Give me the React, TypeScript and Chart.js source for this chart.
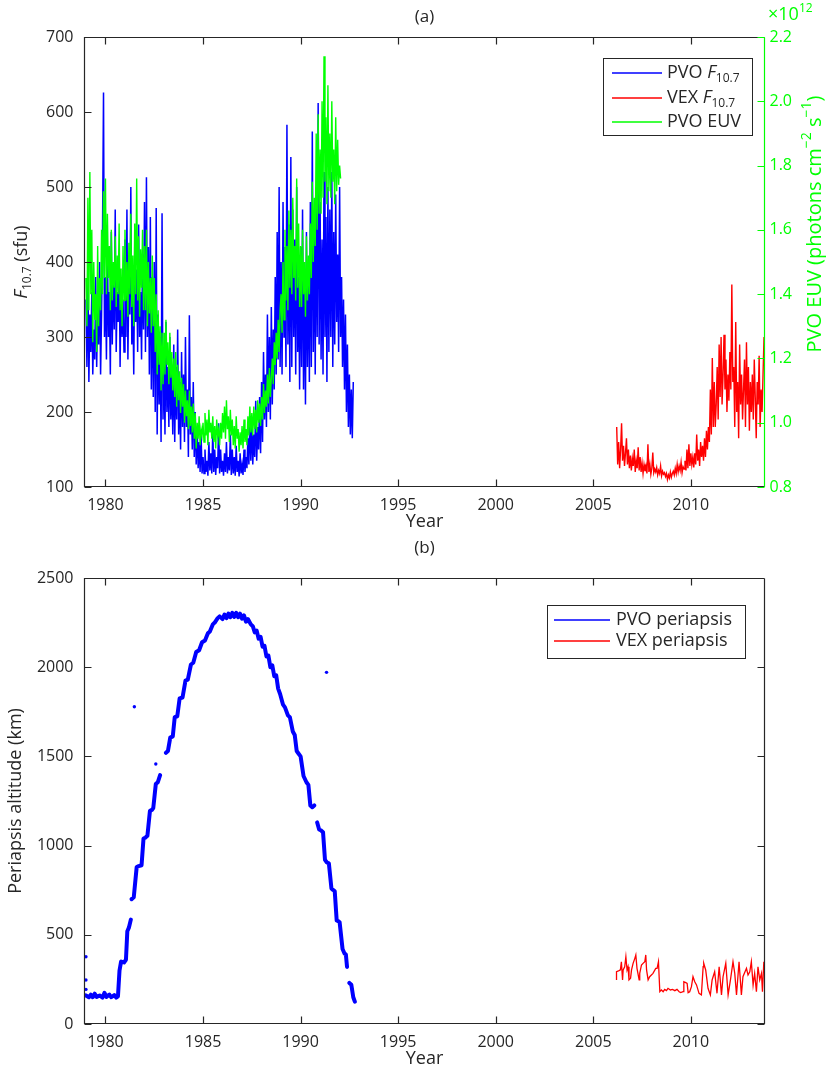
import { useEffect, useRef } from "react";
import { Chart, registerables } from "chart.js";

Chart.register(...registerables);

const FONT = "'Open Sans', 'Noto Sans', sans-serif";
const AXIS = "#262626";
const BLUE = "#0000ff";
const RED = "#ff0000";
const GREEN = "#00ff00";

// ---------- tick labels ----------
const yearTicks = [1980, 1985, 1990, 1995, 2000, 2005, 2010];
const f107Ticks = [100, 200, 300, 400, 500, 600, 700];
const euvTicks = [0.8, 1.0, 1.2, 1.4, 1.6, 1.8, 2.0, 2.2];
const periTicks = [0, 500, 1000, 1500, 2000, 2500];

// ---------- panel (a) series: values every 0.05 yr ----------
const sampleStep = 0.05;
const pvoF107Start = 1979.0;
const pvoF107 = [
  350, 260, 390, 240, 330, 280, 360, 250, 310, 270,
  380, 260, 340, 290, 400, 250, 330, 440, 626, 300,
  380, 270, 420, 300, 360, 250, 440, 290, 390, 310,
  470, 280, 360, 320, 410, 260, 380, 300, 350, 280,
  430, 300, 470, 270, 380, 330, 500, 290, 360, 250,
  420, 320, 390, 280, 450, 300, 360, 270, 410, 310,
  480, 280, 513, 300, 420, 250, 460, 230, 380, 220,
  400, 200, 472, 170, 330, 210, 300, 160, 465, 190,
  280, 170, 320, 200, 260, 180, 300, 190, 250, 170,
  290, 160, 260, 190, 310, 170, 240, 150, 280, 180,
  250, 160, 300, 180, 230, 140, 329, 170, 220, 150,
  240, 140, 200, 130, 180, 125, 160, 120, 170, 118,
  140, 118, 150, 120, 135, 115, 160, 122, 145, 118,
  175, 120, 150, 116, 140, 125, 185, 118, 150, 120,
  135, 115, 145, 120, 160, 118, 140, 122, 170, 116,
  150, 118, 140, 115, 155, 120, 135, 114, 145, 118,
  130, 116, 150, 120, 140, 125, 165, 130, 190, 135,
  190, 130, 170, 140, 215, 135, 180, 150, 220, 145,
  240, 160, 280, 190, 250, 180, 330, 200, 300, 190,
  340, 210, 310, 230, 380, 250, 440, 270, 500, 260,
  400, 250, 480, 300, 420, 260, 583, 290, 450, 240,
  540, 260, 470, 300, 430, 250, 500, 280, 380, 230,
  420, 260, 470, 230, 380, 210, 440, 260, 400, 240,
  480, 260, 574, 280, 450, 250, 500, 300, 612, 290,
  480, 270, 430, 250, 520, 300, 460, 240, 500, 280,
  470, 300, 520, 260, 440, 290, 490, 320, 410, 280,
  500, 300, 380, 260, 350, 230, 330, 200, 290, 180,
  250, 170, 230, 165, 240,
];

const vexF107Start = 2006.2;
const vexF107 = [
  180, 130, 160, 125, 150, 185, 135, 155, 128, 145,
  165, 130, 150, 125, 142, 122, 138, 128, 150, 120,
  135, 125, 153, 122, 140, 120, 132, 118, 130, 121,
  128, 118, 157, 120, 130, 117, 125, 146, 119, 124,
  120, 126, 116, 122, 118, 128, 115, 121, 117, 119,
  114, 118, 110, 116, 112, 120, 113, 118, 121, 116,
  125, 118, 130, 120, 128, 122, 133, 119, 127, 124,
  135, 122, 150, 125, 157, 128, 145, 130, 140, 126,
  145, 130, 170, 135, 150, 128, 160, 140, 155, 135,
  165, 140, 175, 150, 180, 160, 230, 170, 272, 180,
  240, 180, 210, 260, 190, 290, 220, 300, 210, 250,
  303, 230, 270, 200, 250, 215, 280, 230, 370, 240,
  260, 180, 320, 200, 240, 165, 290, 210, 250, 190,
  230, 270, 180, 293, 210, 260, 175, 240, 200, 250,
  190, 270, 220, 165, 240, 210, 275, 180, 230, 200,
  250, 300, 260,
];

const pvoEuvStart = 1979.0; // units of 1e12 photons cm^-2 s^-1
const pvoEuv = [
  1.45, 1.30, 1.70, 1.35, 1.78, 1.40, 1.60, 1.25, 1.50, 1.32,
  1.40, 1.22, 1.55, 1.30, 1.45, 1.35, 1.60, 1.40, 1.72, 1.45,
  1.76, 1.40, 1.65, 1.45, 1.55, 1.35, 1.60, 1.38, 1.50, 1.42,
  1.58, 1.36, 1.52, 1.40, 1.62, 1.35, 1.48, 1.30, 1.55, 1.38,
  1.60, 1.38, 1.50, 1.33, 1.56, 1.40, 1.65, 1.36, 1.52, 1.30,
  1.62, 1.40, 1.76, 1.38, 1.58, 1.33, 1.54, 1.42, 1.60, 1.35,
  1.55, 1.35, 1.60, 1.30, 1.50, 1.34, 1.45, 1.28, 1.52, 1.30,
  1.45, 1.22, 1.40, 1.15, 1.35, 1.18, 1.30, 1.10, 1.28, 1.12,
  1.28, 1.15, 1.32, 1.18, 1.25, 1.12, 1.28, 1.14, 1.22, 1.10,
  1.20, 1.08, 1.22, 1.05, 1.18, 1.07, 1.16, 1.03, 1.14, 1.05,
  1.12, 1.00, 1.10, 1.02, 1.07, 0.98, 1.10, 0.99, 1.05, 0.97,
  1.06, 0.95, 1.03, 0.92, 1.00, 0.95, 1.02, 0.93, 0.98, 0.96,
  1.00, 0.94, 1.03, 0.96, 1.01, 0.93, 1.04, 0.97, 1.00, 0.95,
  1.02, 0.94, 0.99, 0.92, 1.01, 0.96, 0.98, 0.93, 1.00, 0.95,
  1.03, 0.97, 1.05, 0.95, 1.07, 0.98, 1.02, 0.94, 1.04, 0.96,
  1.01, 0.93, 0.99, 0.92, 1.02, 0.95, 0.98, 0.91, 0.97, 0.93,
  0.99, 0.92, 1.01, 0.94, 0.98, 0.93, 1.02, 0.96, 1.05, 0.97,
  1.03, 0.96, 1.05, 0.98, 1.04, 0.97, 1.07, 1.00, 1.06, 0.99,
  1.08, 1.01, 1.12, 1.03, 1.10, 1.05, 1.15, 1.06, 1.17, 1.08,
  1.14, 1.20, 1.12, 1.25, 1.18, 1.28, 1.20, 1.32, 1.22, 1.35,
  1.40, 1.28, 1.50, 1.32, 1.60, 1.38, 1.55, 1.35, 1.66, 1.42,
  1.60, 1.40, 1.70, 1.45, 1.55, 1.38, 1.76, 1.42, 1.62, 1.36,
  1.55, 1.36, 1.60, 1.40, 1.50, 1.33, 1.58, 1.38, 1.52, 1.40,
  1.62, 1.45, 1.75, 1.50, 1.70, 1.55, 1.90, 1.60, 1.96, 1.65,
  1.85, 1.65, 2.00, 1.70, 2.14, 1.75, 1.95, 1.68, 2.05, 1.72,
  1.90, 1.70, 2.00, 1.75, 1.85, 1.68, 1.95, 1.72, 1.88, 1.74,
  1.80, 1.76,
];

// ---------- panel (b) series ----------
const pvoPeriYears = [
  1979.0, 1979.15, 1979.25, 1979.35, 1979.45, 1979.55, 1979.7, 1979.85, 1979.95, 1980.05, 1980.2, 1980.3, 1980.45, 1980.55, 1980.64,
  1980.72, 1980.8, 1980.95, 1981.05, 1981.12, 1981.2, 1981.3, 1981.32,
  1981.34, 1981.45, 1981.6, 1981.7, 1981.85, 1981.95, 1982.05, 1982.15, 1982.28, 1982.38, 1982.45, 1982.58, 1982.68, 1982.8, 1982.95,
  1983.1, 1983.2, 1983.32, 1983.45, 1983.55, 1983.68, 1983.8, 1983.95, 1984.1, 1984.22, 1984.38, 1984.5, 1984.65, 1984.8, 1984.95,
  1985.1, 1985.25, 1985.35, 1985.5, 1985.6, 1985.75, 1985.85, 1986.0, 1986.1, 1986.2, 1986.3, 1986.4, 1986.5, 1986.6, 1986.7,
  1986.8, 1986.9, 1987.0, 1987.1, 1987.2, 1987.3, 1987.45, 1987.55, 1987.65, 1987.75, 1987.85, 1987.95, 1988.05, 1988.15, 1988.25,
  1988.35, 1988.45, 1988.55, 1988.65, 1988.75, 1988.85, 1988.95,
  1989.1, 1989.2, 1989.35, 1989.45, 1989.6, 1989.7, 1989.8, 1989.9, 1990.0, 1990.15, 1990.3, 1990.4, 1990.5, 1990.6, 1990.7, 1990.78,
  1990.85, 1990.95, 1991.05, 1991.15, 1991.25, 1991.35, 1991.45, 1991.58, 1991.68, 1991.75, 1991.85, 1991.95, 1992.0, 1992.15,
  1992.25, 1992.32, 1992.38, 1992.44, 1992.5, 1992.6, 1992.7, 1992.78,
];
const pvoPeriKm = [
  160, 150, 165, 150, 170, 152, 160, 148, 175, 152, 165, 150, 162, 148, 155,
  300, 350, 345, 360, 520, 540, 585, null,
  700, 710, 880, 885, 890, 1040, 1045, 1055, 1195, 1200, 1210, 1345, 1355, 1395, null,
  1520, 1530, 1605, 1612, 1720, 1725, 1825, 1830, 1925, 1930, 2015, 2025, 2085, 2095, 2140,
  2150, 2190, 2200, 2240, 2250, 2275, 2285, 2270, 2295, 2275, 2300, 2280, 2305, 2282, 2305,
  2280, 2300, 2272, 2290, 2255, 2270, 2240, 2230, 2195, 2205, 2160, 2170, 2115, 2120, 2060,
  2065, 2000, 2010, 1950, 1955, 1880, 1850,
  1790, 1775, 1730, 1720, 1640, 1620, 1530, 1515, 1500, 1390, 1355, 1340, 1225, 1215, 1225, null,
  1130, 1090, 1085, 1075, 920, 905, 900, 760, 750, 745, 580, 575, 570, 420,
  395, 390, 320, null, 230, 220, 150, 125,
];
const pvoPeriDotYears = [1979.0, 1979.0, 1979.0, 1981.48, 1982.58, 1991.33];
const pvoPeriDotKm = [377, 247, 194, 1778, 1457, 1971];

const vexPeriYears = [
  2006.19, 2006.19, 2006.32, 2006.39, 2006.44, 2006.5, 2006.53, 2006.61, 2006.67, 2006.73, 2006.78, 2006.83, 2006.91, 2006.96,
  2007.04, 2007.13, 2007.18, 2007.24, 2007.35, 2007.38, 2007.47, 2007.55, 2007.64, 2007.69, 2007.73, 2007.81, 2007.89,
  2008.06, 2008.2, 2008.27, 2008.34, 2008.41, 2008.49, 2008.58, 2008.66, 2008.75, 2008.83, 2008.95,
  2009.06, 2009.18, 2009.29, 2009.4, 2009.48, 2009.6, 2009.64, 2009.74, 2009.81, 2009.86, 2009.94,
  2010.03, 2010.11, 2010.2, 2010.29, 2010.42, 2010.54, 2010.63, 2010.66, 2010.76, 2010.88,
  2011.0, 2011.09, 2011.22, 2011.34, 2011.45, 2011.57, 2011.65, 2011.79, 2011.91,
  2012.03, 2012.16, 2012.25, 2012.34, 2012.47, 2012.59, 2012.67, 2012.85, 2012.93,
  2013.02, 2013.1, 2013.19, 2013.27, 2013.36, 2013.44, 2013.53, 2013.62, 2013.67, 2013.74, 2013.79,
];
const vexPeriKm = [
  247, 293, 299, 303, 349, 247, 303, 321, 377, 303, 321, 247, 256, 303,
  340, 368, 387, 312, 247, 284, 331, 340, 349, 387, 303, 247, 265,
  284, 312, 312, 349, 181, 191, 181, 194, 187, 200, 191,
  194, 187, 194, 181, 176, 181, 237, 232, 228, 176, 181,
  209, 265, 237, 219, 172, 163, 321, 340, 303, 200,
  163, 247, 293, 172, 321, 163, 265, 340, 163,
  247, 349, 284, 163, 349, 163, 265, 312, 275,
  293, 349, 219, 284, 181, 321, 247, 284, 181, 349, 303,
];

// ---------- helpers ----------
type Part = { t: string; it?: boolean; sub?: boolean; sup?: boolean };

function partFont(p: Part, size: number) {
  return `${p.it ? "italic " : ""}${p.sub || p.sup ? Math.round(size * 0.68) : size}px ${FONT}`;
}

function richWidth(ctx: CanvasRenderingContext2D, parts: Part[], size: number) {
  let w = 0;
  for (const p of parts) {
    ctx.font = partFont(p, size);
    w += ctx.measureText(p.t).width;
  }
  return w;
}

function drawRich(
  ctx: CanvasRenderingContext2D,
  parts: Part[],
  x: number,
  y: number,
  size: number,
  color: string,
  align: "left" | "center" | "right"
) {
  const w = richWidth(ctx, parts, size);
  let cx = align === "left" ? x : align === "center" ? x - w / 2 : x - w;
  ctx.fillStyle = color;
  ctx.textAlign = "left";
  ctx.textBaseline = "middle";
  for (const p of parts) {
    ctx.font = partFont(p, size);
    const dy = p.sub ? size * 0.32 : p.sup ? -size * 0.38 : 0;
    ctx.fillText(p.t, cx, y + dy);
    cx += ctx.measureText(p.t).width;
  }
}

function drawRotated(ctx: CanvasRenderingContext2D, parts: Part[], x: number, y: number, size: number, color: string) {
  ctx.save();
  ctx.translate(x, y);
  ctx.rotate(-Math.PI / 2);
  drawRich(ctx, parts, 0, 0, size, color, "center");
  ctx.restore();
}

const TICK = 7;
const TICK_FONT = 16;
const LABEL_FONT = 18;

function drawFrame(chart: any, leftTicks: number[], rightId: string | null, rightTicks: number[] | null) {
  const ctx: CanvasRenderingContext2D = chart.ctx;
  const a = chart.chartArea;
  const L = Math.round(a.left) + 0.5;
  const R = Math.round(a.right) - 0.5;
  const T = Math.round(a.top) + 0.5;
  const B = Math.round(a.bottom) - 0.5;
  const xs = chart.scales.x;
  const ys = chart.scales.y;
  ctx.save();
  ctx.lineWidth = 1.2;
  ctx.strokeStyle = AXIS;
  ctx.beginPath();
  ctx.moveTo(R, T);
  ctx.lineTo(L, T);
  ctx.lineTo(L, B);
  ctx.lineTo(R, B);
  if (!rightId) ctx.lineTo(R, T);
  for (const v of yearTicks) {
    const px = Math.round(xs.getPixelForValue(v)) + 0.5;
    ctx.moveTo(px, B);
    ctx.lineTo(px, B - TICK);
    ctx.moveTo(px, T);
    ctx.lineTo(px, T + TICK);
  }
  for (const v of leftTicks) {
    const py = Math.round(ys.getPixelForValue(v)) + 0.5;
    ctx.moveTo(L, py);
    ctx.lineTo(L + TICK, py);
    if (!rightId) {
      ctx.moveTo(R, py);
      ctx.lineTo(R - TICK, py);
    }
  }
  ctx.stroke();

  ctx.font = `${TICK_FONT}px ${FONT}`;
  ctx.fillStyle = AXIS;
  ctx.textBaseline = "middle";
  ctx.textAlign = "center";
  for (const v of yearTicks) {
    ctx.fillText(String(v), xs.getPixelForValue(v), B + 19);
  }
  ctx.textAlign = "right";
  for (const v of leftTicks) {
    ctx.fillText(String(v), L - 11, ys.getPixelForValue(v));
  }

  if (rightId && rightTicks) {
    const rs = chart.scales[rightId];
    ctx.strokeStyle = GREEN;
    ctx.beginPath();
    ctx.moveTo(R, T);
    ctx.lineTo(R, B + 0.5);
    for (const v of rightTicks) {
      const py = Math.round(rs.getPixelForValue(v)) + 0.5;
      ctx.moveTo(R, py);
      ctx.lineTo(R - TICK, py);
    }
    ctx.stroke();
    ctx.fillStyle = GREEN;
    ctx.textAlign = "left";
    ctx.font = `${TICK_FONT}px ${FONT}`;
    for (const v of rightTicks) {
      ctx.fillText(v.toFixed(1), R + 5, rs.getPixelForValue(v));
    }
  }
  ctx.restore();
}

function drawLegend(
  ctx: CanvasRenderingContext2D,
  box: { x: number; y: number; w: number; h: number },
  lineX0: number,
  lineX1: number,
  textX: number,
  rows: { y: number; color: string; width: number; parts: Part[] }[]
) {
  ctx.save();
  ctx.fillStyle = "#ffffff";
  ctx.fillRect(box.x, box.y, box.w, box.h);
  ctx.strokeStyle = AXIS;
  ctx.lineWidth = 1;
  ctx.strokeRect(box.x + 0.5, box.y + 0.5, box.w, box.h);
  for (const r of rows) {
    ctx.strokeStyle = r.color;
    ctx.lineWidth = r.width;
    ctx.beginPath();
    ctx.moveTo(lineX0, r.y);
    ctx.lineTo(lineX1, r.y);
    ctx.stroke();
    drawRich(ctx, r.parts, textX, r.y, LABEL_FONT, AXIS, "left");
  }
  ctx.restore();
}

const topPlugin = {
  id: "panelA",
  afterDraw(chart: any) {
    const ctx: CanvasRenderingContext2D = chart.ctx;
    const a = chart.chartArea;
    const cx = (a.left + a.right) / 2;
    drawFrame(chart, f107Ticks, "y2", euvTicks);
    drawRich(ctx, [{ t: "(a)" }], cx, 17, 17, AXIS, "center");
    drawRich(ctx, [{ t: "Year" }], cx, 522, LABEL_FONT, AXIS, "center");
    drawRotated(ctx, [{ t: "F", it: true }, { t: "10.7", sub: true }, { t: " (sfu)" }], 22, (a.top + a.bottom) / 2, LABEL_FONT, AXIS);
    drawRotated(
      ctx,
      [{ t: "PVO EUV (photons cm" }, { t: "\u22122", sup: true }, { t: " s" }, { t: "\u22121", sup: true }, { t: ")" }],
      815,
      224,
      20,
      GREEN
    );
    drawRich(ctx, [{ t: "\u00d710" }, { t: "12", sup: true }], 768, 15, 18, GREEN, "left");
    drawLegend(ctx, { x: 603, y: 58, w: 149, h: 77 }, 612, 662, 667, [
      { y: 73, color: BLUE, width: 1.5, parts: [{ t: "PVO " }, { t: "F", it: true }, { t: "10.7", sub: true }] },
      { y: 98, color: RED, width: 1.5, parts: [{ t: "VEX " }, { t: "F", it: true }, { t: "10.7", sub: true }] },
      { y: 122, color: GREEN, width: 1.5, parts: [{ t: "PVO EUV" }] },
    ]);
  },
};

const bottomPlugin = {
  id: "panelB",
  afterDraw(chart: any) {
    const ctx: CanvasRenderingContext2D = chart.ctx;
    const a = chart.chartArea;
    const cx = (a.left + a.right) / 2;
    drawFrame(chart, periTicks, null, null);
    drawRich(ctx, [{ t: "(b)" }], cx, 13, 17, AXIS, "center");
    drawRich(ctx, [{ t: "Year" }], cx, 524, LABEL_FONT, AXIS, "center");
    drawRotated(ctx, [{ t: "Periapsis altitude (km)" }], 16, (a.top + a.bottom) / 2, LABEL_FONT, AXIS);
    drawLegend(ctx, { x: 547, y: 70, w: 198, h: 53 }, 554, 610, 616, [
      { y: 85, color: BLUE, width: 1.5, parts: [{ t: "PVO periapsis" }] },
      { y: 106, color: RED, width: 1.5, parts: [{ t: "VEX periapsis" }] },
    ]);
  },
};

function series(start: number, values: number[]) {
  return values.map((v, i) => ({ x: start + i * sampleStep, y: v }));
}
function pairs(xs: number[], ys: (number | null)[]) {
  return xs.map((x, i) => ({ x, y: ys[i] }));
}

const X_MIN = 1978.9;
const X_MAX = 2013.8;

function hiddenScale(extra: any, fit: (s: any) => void) {
  return {
    type: "linear",
    grid: { display: false, drawTicks: false },
    border: { display: false },
    ticks: { display: false },
    afterFit: fit,
    ...extra,
  };
}

export default function App() {
  const topRef = useRef<HTMLCanvasElement | null>(null);
  const botRef = useRef<HTMLCanvasElement | null>(null);

  useEffect(() => {
    const top = new Chart(topRef.current as HTMLCanvasElement, {
      type: "line",
      data: {
        datasets: [
          {
            label: "PVO F10.7",
            data: series(pvoF107Start, pvoF107),
            borderColor: BLUE,
            borderWidth: 1.5,
            pointRadius: 0,
            yAxisID: "y",
            order: 2,
          },
          {
            label: "VEX F10.7",
            data: series(vexF107Start, vexF107),
            borderColor: RED,
            borderWidth: 1.4,
            pointRadius: 0,
            yAxisID: "y",
            order: 1,
          },
          {
            label: "PVO EUV",
            data: series(pvoEuvStart, pvoEuv),
            borderColor: GREEN,
            borderWidth: 1.4,
            pointRadius: 0,
            yAxisID: "y2",
            order: 0,
          },
        ],
      },
      options: {
        responsive: false,
        animation: false,
        events: [],
        layout: { padding: { top: 37, left: 0, right: 0, bottom: 0 } },
        plugins: { legend: { display: false }, tooltip: { enabled: false }, title: { display: false } },
        scales: {
          x: hiddenScale({ min: X_MIN, max: X_MAX }, (s: any) => { s.height = 48; }),
          y: hiddenScale({ position: "left", min: 100, max: 700 }, (s: any) => { s.width = 84; }),
          y2: hiddenScale({ position: "right", min: 0.8, max: 2.2 }, (s: any) => { s.width = 61; }),
        },
      },
      plugins: [topPlugin],
    } as any);

    const bot = new Chart(botRef.current as HTMLCanvasElement, {
      type: "line",
      data: {
        datasets: [
          {
            label: "PVO periapsis",
            data: pairs(pvoPeriYears, pvoPeriKm),
            borderColor: BLUE,
            borderWidth: 4,
            borderCapStyle: "round",
            borderJoinStyle: "round",
            pointRadius: 0,
            spanGaps: false,
            order: 1,
          },
          {
            label: "PVO periapsis dots",
            data: pairs(pvoPeriDotYears, pvoPeriDotKm),
            showLine: false,
            pointRadius: 1.7,
            pointBackgroundColor: BLUE,
            pointBorderWidth: 0,
            borderColor: BLUE,
            order: 1,
          },
          {
            label: "VEX periapsis",
            data: pairs(vexPeriYears, vexPeriKm),
            borderColor: RED,
            borderWidth: 1.3,
            pointRadius: 0,
            order: 0,
          },
        ],
      },
      options: {
        responsive: false,
        animation: false,
        events: [],
        layout: { padding: { top: 43, left: 0, right: 0, bottom: 0 } },
        plugins: { legend: { display: false }, tooltip: { enabled: false }, title: { display: false } },
        scales: {
          x: hiddenScale({ min: X_MIN, max: X_MAX }, (s: any) => { s.height = 46; }),
          y: hiddenScale({ position: "left", min: 0, max: 2500 }, (s: any) => { s.width = 84; }),
          yR: hiddenScale({ position: "right", min: 0, max: 2500 }, (s: any) => { s.width = 61; }),
        },
      },
      plugins: [bottomPlugin],
    } as any);

    return () => {
      top.destroy();
      bot.destroy();
    };
  }, []);

  return (
    <div style={{ position: "absolute", left: 0, top: 0, width: 826, height: 1070, background: "#ffffff" }}>
      <canvas
        ref={topRef}
        width={826}
        height={535}
        style={{ position: "absolute", left: 0, top: 0, width: 826, height: 535 }}
      />
      <canvas
        ref={botRef}
        width={826}
        height={535}
        style={{ position: "absolute", left: 0, top: 535, width: 826, height: 535 }}
      />
    </div>
  );
}
